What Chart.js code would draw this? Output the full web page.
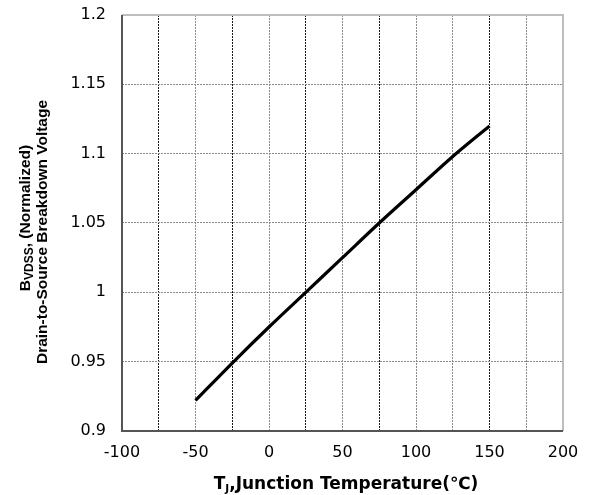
<!DOCTYPE html>
<html>
<head>
<meta charset="utf-8">
<script src="https://cdn.jsdelivr.net/npm/chart.js@4.4.1/dist/chart.umd.min.js"></script>
<style>
  html, body { margin: 0; padding: 0; background: #fff; }
  #wrap { width: 591px; height: 495px; }
</style>
</head>
<body>
<div id="wrap"><canvas id="myChart"></canvas></div>
<script>
// junction temperature (C) and normalized breakdown voltage
var tempC = [-50, -25, 0, 25, 50, 75, 100, 125, 150];
var bvdss = [0.922, 0.949, 0.975, 1.0, 1.025, 1.05, 1.074, 1.098, 1.12];

var xMin = -100, xMax = 200, xStep = 25;
var yMin = 0.9, yMax = 1.2, yStep = 0.05;
// vertical grid lines that come out darker
var darkX = [-75, -25, 25, 75, 150];

var font = "'DejaVu Sans', 'Liberation Sans', Arial, sans-serif";
var arial = "'Liberation Sans', Arial, sans-serif";

// draws a run of text pieces, some as subscripts, centred on x
function drawParts(ctx, parts, x, y, size, subSize, family) {
  var total = 0;
  parts.forEach(function(p){
    ctx.font = 'bold ' + (p.sub ? subSize : size) + 'px ' + family;
    total += ctx.measureText(p.t).width;
  });
  var cx = x - total / 2;
  parts.forEach(function(p){
    ctx.font = 'bold ' + (p.sub ? subSize : size) + 'px ' + family;
    ctx.fillText(p.t, cx, p.sub ? y + size * 0.2 : y);
    cx += ctx.measureText(p.t).width;
  });
}

var axisTitles = {
  id: 'axisTitles',
  afterDraw: function(chart) {
    var ctx = chart.ctx;
    ctx.save();
    ctx.fillStyle = '#000';
    ctx.textAlign = 'left';
    ctx.textBaseline = 'alphabetic';
    // x title
    drawParts(ctx, [
      {t: 'T'}, {t: 'J', sub: true}, {t: ',Junction Temperature(\u2103)'}
    ], 346, 489, 17, 10.5, font);
    // y title, two lines
    ctx.rotate(-Math.PI / 2);
    drawParts(ctx, [
      {t: 'B'}, {t: 'VDSS', sub: true}, {t: ', (Normalized)'}
    ], -218, 30, 15.5, 12, arial);
    drawParts(ctx, [
      {t: 'Drain-to-Source Breakdown Voltage'}
    ], -232, 47, 15.5, 10, arial);
    ctx.restore();
  }
};

// plot frame: dark left/bottom, grey top/right
var frame = {
  id: 'frame',
  afterDatasetsDraw: function(chart) {
    var ctx = chart.ctx;
    var a = chart.chartArea;
    ctx.save();
    ctx.lineWidth = 2;
    ctx.strokeStyle = '#bdbdbd';
    ctx.beginPath();
    ctx.moveTo(a.left, a.top);
    ctx.lineTo(a.right, a.top);
    ctx.lineTo(a.right, a.bottom);
    ctx.stroke();
    ctx.strokeStyle = '#555';
    ctx.beginPath();
    ctx.moveTo(a.left, a.top);
    ctx.lineTo(a.left, a.bottom);
    ctx.lineTo(a.right, a.bottom);
    ctx.stroke();
    ctx.restore();
  }
};

var points = [];
for (let i = 0; i < tempC.length; i++) {
  points.push({x: tempC[i], y: bvdss[i]});
}

const data = {
  datasets: [{
    data: points,
    borderColor: '#000',
    borderWidth: 3.2,
    pointRadius: 0,
    fill: false,
    cubicInterpolationMode: 'monotone'
  }]
};

const config = {
  type: 'line',
  data: data,
  options: {
    responsive: true,
    maintainAspectRatio: false,
    animation: false,
    layout: { padding: { top: 15, right: 28, bottom: 0, left: 0 } },
    plugins: { legend: { display: false }, tooltip: { enabled: false } },
    scales: {
      x: {
        type: 'linear',
        min: xMin, max: xMax,
        afterFit: function(scale){ scale.height = 64; },
        border: { display: false, dash: [2, 1] },
        grid: {
          drawTicks: false,
          lineWidth: 1,
          color: function(c){
            var v = c.tick ? c.tick.value : null;
            return darkX.indexOf(v) >= 0 ? '#1a1a1a' : '#8a8a8a';
          }
        },
        ticks: {
          stepSize: xStep,
          autoSkip: false,
          maxRotation: 0,
          padding: 12,
          color: '#000',
          font: { family: font, size: 16 },
          callback: function(v){ return v % 50 === 0 ? String(v) : ''; }
        }
      },
      y: {
        min: yMin, max: yMax,
        afterFit: function(scale){
          scale.width = 122;
          scale.paddingTop = 10;
          scale.paddingBottom = 10;
        },
        border: { display: false, dash: [2, 1] },
        grid: { drawTicks: false, color: '#8a8a8a', lineWidth: 1 },
        ticks: {
          stepSize: yStep,
          padding: 16,
          color: '#000',
          font: { family: font, size: 16 },
          callback: function(v){ return String(parseFloat(v.toFixed(2))); }
        }
      }
    }
  },
  plugins: [frame, axisTitles]
};

const myChart = new Chart(document.getElementById('myChart'), config);
</script>
</body>
</html>
